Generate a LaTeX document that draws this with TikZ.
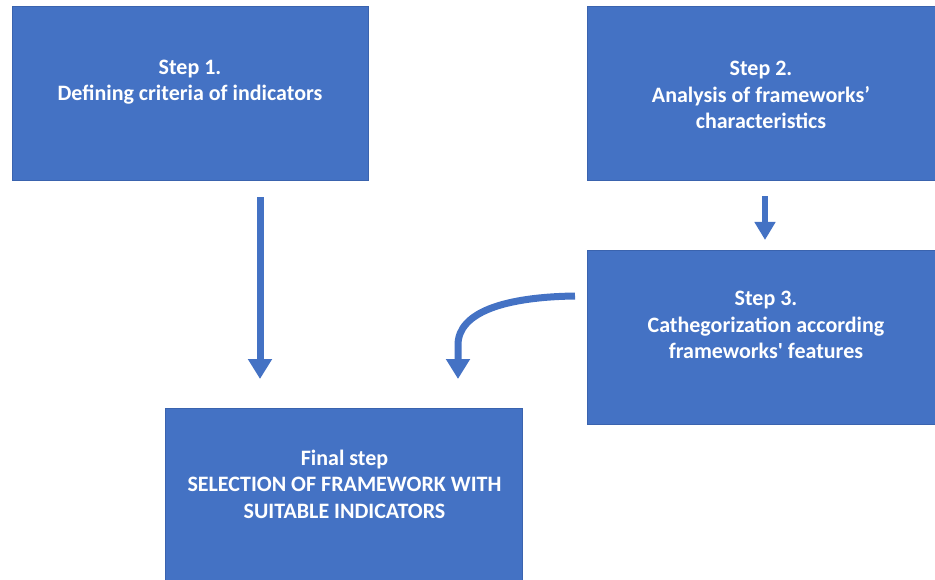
\documentclass[tikz,border=0pt]{standalone}
\usepackage{fontspec}
\setmainfont{Carlito}
\usetikzlibrary{arrows.meta}
\definecolor{boxblue}{HTML}{4472C4}
\definecolor{boxedge}{HTML}{3A63AE}
\tikzset{
  stepbox/.style={draw=boxedge, line width=1pt, fill=boxblue, inner sep=0pt},
  steptext/.style={text=white, font=\fontsize{22}{26.5}\selectfont\bfseries, align=center, inner sep=0pt},
  flow/.style={draw=boxblue, line width=7pt, -{Triangle[width=23pt,length=20pt]}},
  smallflow/.style={draw=boxblue, line width=6pt, -{Triangle[width=20pt,length=18pt]}}
}
\begin{document}
\begin{tikzpicture}[x=1pt,y=-1pt]
  \useasboundingbox (0,0) rectangle (935,580);
  % boxes
  \node[stepbox, minimum width=356pt, minimum height=174pt] (s1) at (190,94) {};
  \node[stepbox, minimum width=348pt, minimum height=174pt] (s2) at (761,94) {};
  \node[stepbox, minimum width=348pt, minimum height=173pt] (s3) at (761,337.5) {};
  \node[stepbox, minimum width=357pt, minimum height=190pt] (fin) at (343.5,503) {};
  % labels
  \node[steptext] (t1) at (190,82) {Step 1.\\Defining criteria of indicators};
  \node[steptext] (t2) at (761,95) {Step 2.\\Analysis of frameworks'\\characteristics};
  \node[steptext] (t3) at (766,325) {Step 3.\\Cathegorization according\\frameworks\textquotesingle{} features};
  \node[steptext] (tf) at (344.5,484) {Final step\\SELECTION OF FRAMEWORK WITH\\SUITABLE INDICATORS};
  % connectors
  \coordinate (a1s) at (260,197);
  \coordinate (a1e) at (260,379);
  \draw[flow] (a1s |- s1.south) ++(0,16) -- (a1e);
  \coordinate (a2e) at (765,240);
  \draw[smallflow] (a2e |- s2.south) ++(0,15) -- (a2e);
  \coordinate (c3) at (575,296);
  \coordinate (cf) at (458,379);
  \draw[flow] (c3) .. controls (505,297) and (458,312) .. (458,345) -- (cf);
\end{tikzpicture}
\end{document}
